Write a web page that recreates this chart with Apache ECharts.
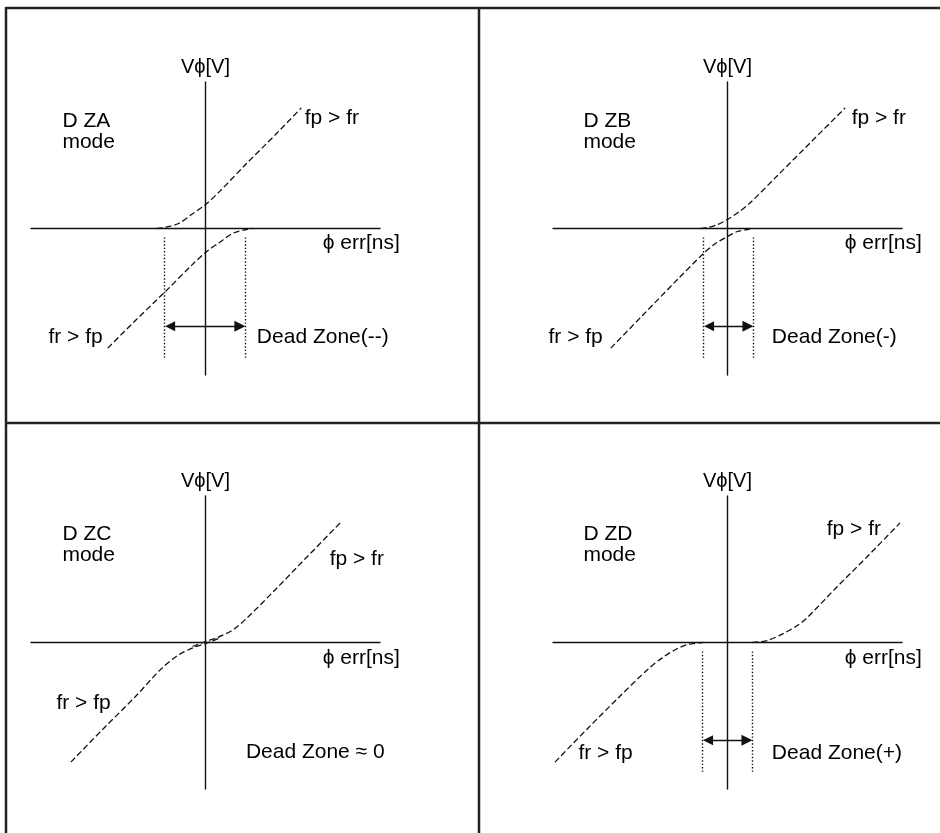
<!DOCTYPE html>
<html>
<head>
<meta charset="utf-8">
<script src="https://cdn.jsdelivr.net/npm/echarts@6/dist/echarts.min.js"></script>
<style>html,body{margin:0;padding:0;background:#fff;}#c{width:940px;height:833px;}</style>
</head>
<body>
<div id="c"></div>
<script>
// ---- data (axis units, origin at the centre of each panel) ----
const panelNames = ['D ZA', 'D ZB', 'D ZC', 'D ZD'];
const yAxisTitle = 'V\u03D5[V]';
const xAxisTitle = '\u03D5 err[ns]';

// fp > fr branch (upper) and fr > fp branch (lower)
const upperA = [[-49,0],[-41,1],[-27,5],[-14,14],[0,24],[14,37],[40,64],[70,94],[96,121]];
const lowerA = [[-98,-120],[-70,-92],[-40,-63],[-14,-37],[0,-24],[14,-14],[27,-5],[41,-1],[47,0]];
const upperB = [[-27,0],[-20,1],[-10,4],[0,9],[12,17],[23,26],[50,53],[85,88],[118,121]];
const lowerB = [[-117,-120],[-85,-87],[-50,-51],[-24,-25],[-12,-15],[0,-8],[10,-3],[20,-1],[26,0]];
const upperC = [[-13,-4],[0,1],[12,5],[28,13],[42,25],[70,53],[100,84],[135,120]];
const lowerC = [[-135,-120],[-100,-84],[-70,-54],[-45,-27],[-28,-13],[-12,-5],[0,-1],[13,4]];
const upperD = [[25,0],[40,2],[56,9],[70,17],[80,25],[110,56],[140,86],[173,120]];
const lowerD = [[-173,-120],[-140,-86],[-110,-56],[-80,-27],[-65,-15],[-52,-7],[-40,-2],[-25,0]];

// dead zone bounds [left, right], dotted-line vertical extent, arrow level
const deadA = [-41, 40];
const deadB = [-24, 26];
const deadC = null;
const deadD = [-25, 25];
const deadSpanY = [-9, -130];
const arrowY = -98;

// text labels: [text, x, y, align]
const labelsA = [['D ZA\nmode',-143.5,97,'left'],['fp > fr',99.5,110.5,'left'],[xAxisTitle,117.5,-15,'left'],['fr > fp',-157.5,-109,'left'],['Dead Zone(--)',51.5,-109,'left']];
const labelsB = [['D ZB\nmode',-144.5,97,'left'],['fp > fr',124.5,110.5,'left'],[xAxisTitle,117.5,-15,'left'],['fr > fp',-179.5,-109,'left'],['Dead Zone(-)',44.5,-109,'left']];
const labelsC = [['D ZC\nmode',-143.5,98,'left'],['fp > fr',124.5,84,'left'],[xAxisTitle,117.5,-16,'left'],['fr > fp',-149.5,-61,'left'],['Dead Zone \u2248 0',40.5,-110,'left']];
const labelsD = [['D ZD\nmode',-144.5,98,'left'],['fp > fr',99.5,114,'left'],[xAxisTitle,117.5,-16,'left'],['fr > fp',-149.5,-111,'left'],['Dead Zone(+)',44.5,-111,'left']];

const xRange = [-175, 175];
const yRange = [-147, 147];

// ---- layout / style ----
const FONT = '"Liberation Sans", Arial, Helvetica, sans-serif';
const INK = '#111';
const ARROW_LEN = 11;
const gridBoxes = [
  {left: 31, top: 82}, {left: 553, top: 82},
  {left: 31, top: 496}, {left: 553, top: 496}
];
const panels = [
  {upper: upperA, lower: lowerA, dead: deadA, labels: labelsA},
  {upper: upperB, lower: lowerB, dead: deadB, labels: labelsB},
  {upper: upperC, lower: lowerC, dead: deadC, labels: labelsC},
  {upper: upperD, lower: lowerD, dead: deadD, labels: labelsD}
];

const series = [];
panels.forEach((p, i) => {
  const curve = (data) => ({
    type: 'line', xAxisIndex: i, yAxisIndex: i, data: data,
    smooth: 0.3, symbol: 'none', silent: true, z: 3,
    lineStyle: {color: INK, width: 1.3, type: [6, 3]}
  });
  series.push(curve(p.upper));
  series.push(curve(p.lower));
  if (p.dead) {
    series.push({
      type: 'lines', coordinateSystem: 'cartesian2d', xAxisIndex: i, yAxisIndex: i, silent: true,
      data: p.dead.map(x => ({coords: [[x, deadSpanY[0]], [x, deadSpanY[1]]]})),
      lineStyle: {color: INK, width: 1.4, type: [1.4, 2], opacity: 1}
    });
    // arrow heads are centred on the line ends, so pull ends in by half a head
    const inset = ARROW_LEN / 2;
    series.push({
      type: 'lines', coordinateSystem: 'cartesian2d', xAxisIndex: i, yAxisIndex: i, silent: true,
      data: [{coords: [[p.dead[0] + inset, arrowY], [p.dead[1] - inset, arrowY]]}],
      symbol: ['triangle', 'triangle'], symbolSize: [10, ARROW_LEN],
      lineStyle: {color: INK, width: 1.4, opacity: 1}
    });
  }
  series.push({
    type: 'scatter', xAxisIndex: i, yAxisIndex: i, clip: false, silent: true,
    symbolSize: 0, itemStyle: {color: INK, opacity: 1},
    data: p.labels.map(l => ({name: l[0], value: [l[1], l[2]], label: {align: l[3]}})),
    label: {
      show: true, position: [0, 0], formatter: '{b}', verticalAlign: 'middle',
      fontFamily: FONT, fontSize: 21, lineHeight: 21.5, color: '#000',
      textBorderWidth: 0, opacity: 1
    }
  });
});

const border = (x1, y1, x2, y2) => ({
  type: 'line', shape: {x1, y1, x2, y2}, style: {stroke: '#222', lineWidth: 2.5}, silent: true
});

const option = {
  animation: false,
  backgroundColor: '#ffffff',
  grid: gridBoxes.map(g => ({left: g.left, top: g.top, width: 349, height: 293})),
  xAxis: gridBoxes.map((g, i) => ({
    gridIndex: i, type: 'value', min: xRange[0], max: xRange[1],
    axisLine: {show: true, onZero: true, lineStyle: {color: '#111', width: 1.4}},
    axisTick: {show: false}, axisLabel: {show: false}, splitLine: {show: false}
  })),
  yAxis: gridBoxes.map((g, i) => ({
    gridIndex: i, type: 'value', min: yRange[0], max: yRange[1],
    name: yAxisTitle, nameLocation: 'end', nameGap: 5,
    nameTextStyle: {fontFamily: FONT, fontSize: 20, color: '#000'},
    axisLine: {show: true, onZero: true, lineStyle: {color: '#111', width: 1.4}},
    axisTick: {show: false}, axisLabel: {show: false}, splitLine: {show: false}
  })),
  graphic: [
    border(6, 8, 940, 8),
    border(6, 7, 6, 833),
    border(479, 8, 479, 833),
    border(6, 423, 940, 423)
  ],
  series: series
};

const chart = echarts.init(document.getElementById('c'), null, {renderer: 'canvas'});
chart.setOption(option);
</script>
</body>
</html>
